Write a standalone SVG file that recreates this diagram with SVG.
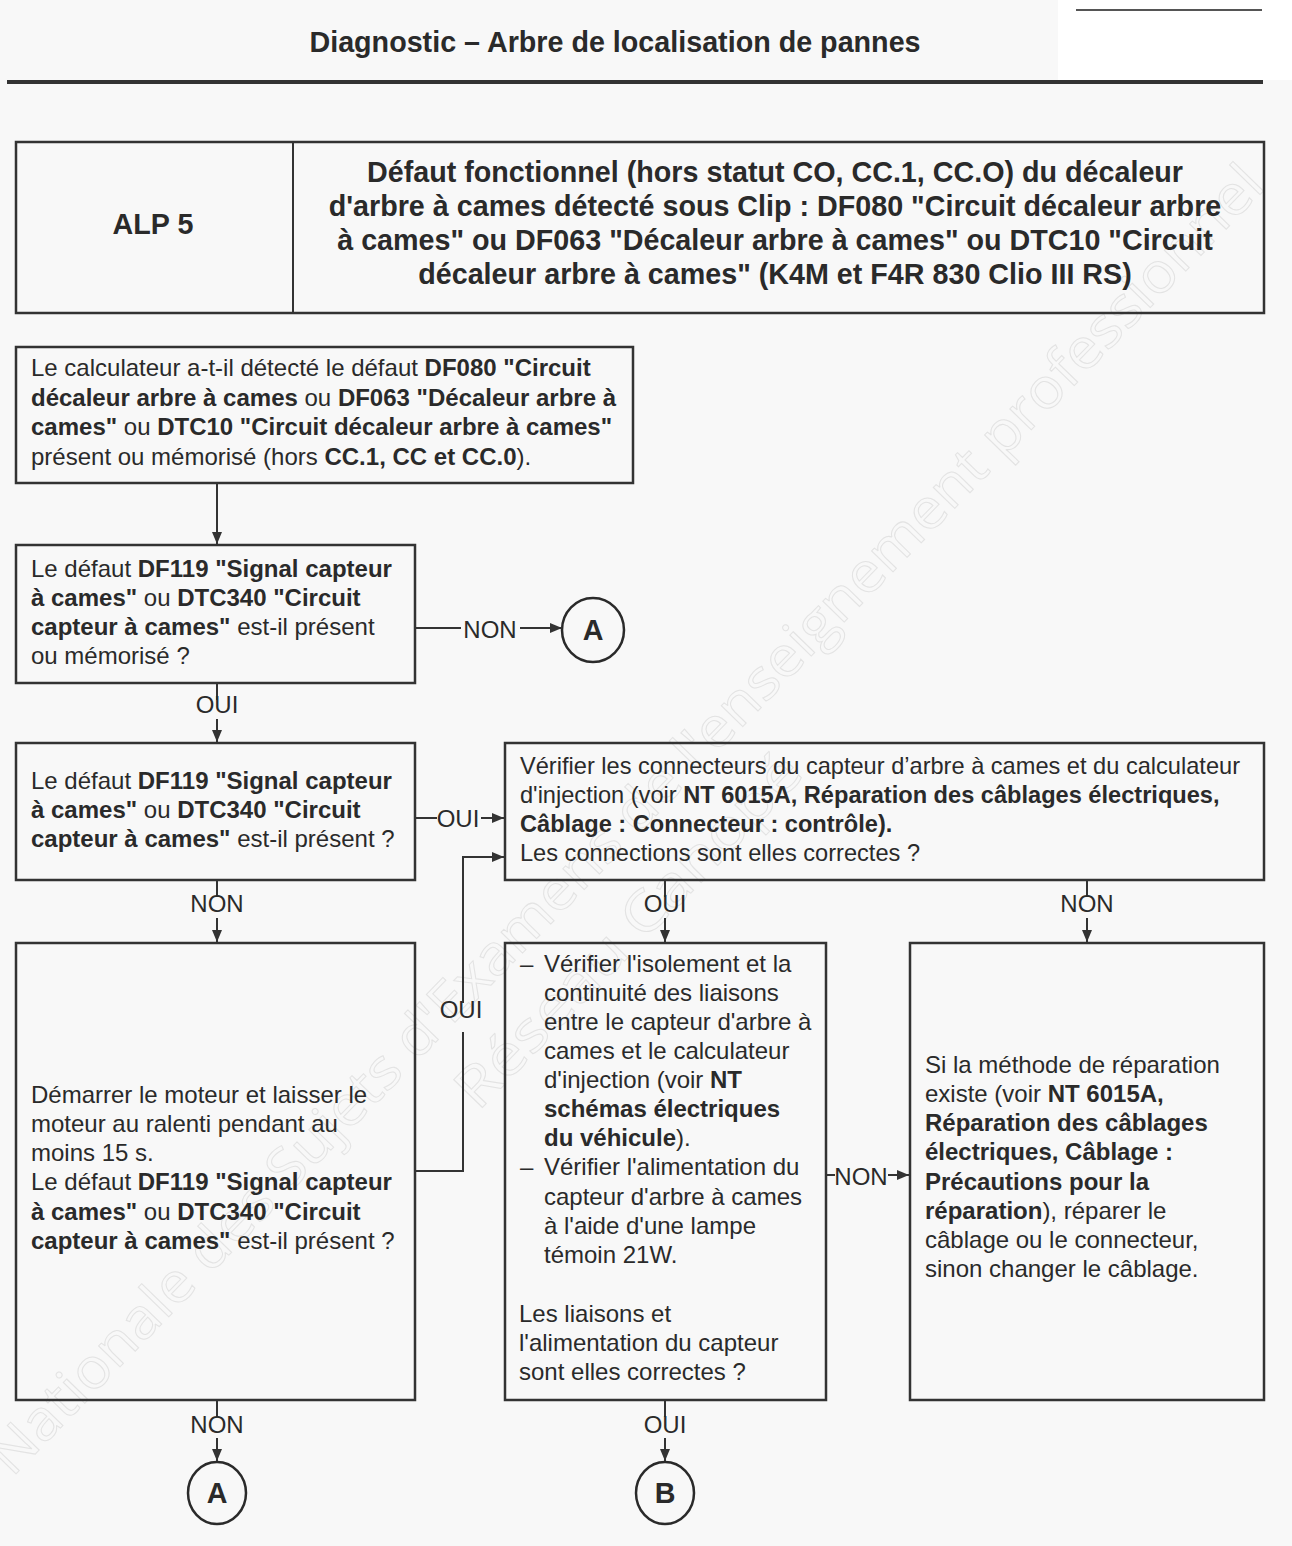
<svg xmlns="http://www.w3.org/2000/svg" width="1292" height="1546" viewBox="0 0 1292 1546">
  <style>
    .t { font-family: 'Liberation Sans', Arial, sans-serif; font-size: 24px; fill: #2a2a2a; }
    .b { font-weight: bold; }
    .h { font-family: 'Liberation Sans', Arial, sans-serif; font-size: 28.7px; font-weight: bold; fill: #2a2a2a; }
    .c { text-anchor: middle; }
    .box { fill: none; stroke: #333; stroke-width: 2.5; }
    .ln { fill: none; stroke: #333; stroke-width: 2; }
    .arr { fill: none; stroke: #333; stroke-width: 2; marker-end: url(#ah); }
    .circ { fill: none; stroke: #2a2a2a; stroke-width: 2.5; }
    .wm { font-family: 'Open Sans', 'DejaVu Sans', sans-serif; font-size: 56px; fill: none; stroke: #e3e3e3; stroke-width: 1; }
  </style>
  <defs>
    <marker id="ah" viewBox="0 0 12 10" refX="12" refY="5" markerWidth="12" markerHeight="10" markerUnits="userSpaceOnUse" orient="auto">
      <path d="M0,0 L12,5 L0,10 z" fill="#333"/>
    </marker>
  </defs>

  <!-- page -->
  <rect x="0" y="0" width="1292" height="1546" fill="#f8f8f8"/>
  <rect x="1058" y="0" width="234" height="80" fill="#ffffff"/>
  <line x1="1076" y1="10" x2="1262" y2="10" stroke="#555" stroke-width="2"/>

  <!-- background watermark -->
  <g id="watermark">
    <text class="wm" transform="translate(12,1478) rotate(-45.8)" textLength="1800" lengthAdjust="spacingAndGlyphs">Nationale des Sujets d'Examens de l'enseignement professionnel</text>
    <text class="wm" transform="translate(478,1112) rotate(-45.8)" textLength="470" lengthAdjust="spacingAndGlyphs">Réseau Canopé</text>
  </g>

  <!-- heading -->
  <g id="heading">
    <text class="h c" x="615" y="52" font-size="29">Diagnostic – Arbre de localisation de pannes</text>
    <line x1="7" y1="82" x2="1263" y2="82" stroke="#333" stroke-width="4"/>
  </g>

  <!-- ALP title block -->
  <g id="alp">
    <rect class="box" x="16" y="142" width="1248" height="171"/>
    <line class="ln" x1="293" y1="142" x2="293" y2="313" stroke-width="2.5"/>
    <text class="h c" x="153" y="234">ALP 5</text>
    <text class="h c" x="775" y="182">Défaut fonctionnel (hors statut CO, CC.1, CC.O) du décaleur</text>
    <text class="h c" x="775" y="216">d'arbre à cames détecté sous Clip : DF080 "Circuit décaleur arbre</text>
    <text class="h c" x="775" y="250">à cames" ou DF063 "Décaleur arbre à cames" ou DTC10 "Circuit</text>
    <text class="h c" x="775" y="284">décaleur arbre à cames" (K4M et F4R 830 Clio III RS)</text>
  </g>

  <!-- step 1 -->
  <g id="n1">
    <rect class="box" x="16" y="347" width="617" height="136"/>
    <text class="t" x="31" y="376">Le calculateur a-t-il détecté le défaut <tspan class="b">DF080 "Circuit</tspan></text>
    <text class="t" x="31" y="406"><tspan class="b">décaleur arbre à cames</tspan> ou <tspan class="b">DF063 "Décaleur arbre à</tspan></text>
    <text class="t" x="31" y="435"><tspan class="b">cames"</tspan> ou <tspan class="b">DTC10 "Circuit décaleur arbre à cames"</tspan></text>
    <text class="t" x="31" y="465">présent ou mémorisé (hors <tspan class="b">CC.1, CC et CC.0</tspan>).</text>
  </g>

  <!-- step 2 -->
  <g id="n2">
    <rect class="box" x="16" y="545" width="399" height="138"/>
    <text class="t" x="31" y="577">Le défaut <tspan class="b">DF119 "Signal capteur</tspan></text>
    <text class="t" x="31" y="606"><tspan class="b">à cames"</tspan> ou <tspan class="b">DTC340 "Circuit</tspan></text>
    <text class="t" x="31" y="635"><tspan class="b">capteur à cames"</tspan> est-il présent</text>
    <text class="t" x="31" y="664">ou mémorisé ?</text>
  </g>

  <!-- connector A (top) -->
  <g id="a1">
    <ellipse class="circ" cx="593" cy="630" rx="31" ry="32"/>
    <text class="h c" x="593" y="640" font-size="27">A</text>
  </g>

  <!-- step 3 -->
  <g id="n3">
    <rect class="box" x="16" y="743" width="399" height="137"/>
    <text class="t" x="31" y="789">Le défaut <tspan class="b">DF119 "Signal capteur</tspan></text>
    <text class="t" x="31" y="818"><tspan class="b">à cames"</tspan> ou <tspan class="b">DTC340 "Circuit</tspan></text>
    <text class="t" x="31" y="847"><tspan class="b">capteur à cames"</tspan> est-il présent ?</text>
  </g>

  <!-- step 4 : connectors check -->
  <g id="n4" font-size="23.6">
    <rect class="box" x="505" y="743" width="759" height="137"/>
    <text class="t" x="520" y="774" style="font-size:23.6px">Vérifier les connecteurs du capteur d’arbre à cames et du calculateur</text>
    <text class="t" x="520" y="803" style="font-size:23.6px">d'injection (voir <tspan class="b">NT 6015A, Réparation des câblages électriques,</tspan></text>
    <text class="t b" x="520" y="832" style="font-size:23.6px">Câblage : Connecteur : contrôle).</text>
    <text class="t" x="520" y="861" style="font-size:23.6px">Les connections sont elles correctes ?</text>
  </g>

  <!-- step 5 : engine idle -->
  <g id="n5">
    <rect class="box" x="16" y="943" width="399" height="457"/>
    <text class="t" x="31" y="1103">Démarrer le moteur et laisser le</text>
    <text class="t" x="31" y="1132">moteur au ralenti pendant au</text>
    <text class="t" x="31" y="1161">moins 15 s.</text>
    <text class="t" x="31" y="1190">Le défaut <tspan class="b">DF119 "Signal capteur</tspan></text>
    <text class="t" x="31" y="1220"><tspan class="b">à cames"</tspan> ou <tspan class="b">DTC340 "Circuit</tspan></text>
    <text class="t" x="31" y="1249"><tspan class="b">capteur à cames"</tspan> est-il présent ?</text>
  </g>

  <!-- step 6 : wiring check -->
  <g id="n6">
    <rect class="box" x="505" y="943" width="321" height="457"/>
    <text class="t" x="520" y="972">–</text>
    <text class="t" x="544" y="972">Vérifier l'isolement et la</text>
    <text class="t" x="544" y="1001">continuité des liaisons</text>
    <text class="t" x="544" y="1030">entre le capteur d'arbre à</text>
    <text class="t" x="544" y="1059">cames et le calculateur</text>
    <text class="t" x="544" y="1088">d'injection (voir <tspan class="b">NT</tspan></text>
    <text class="t b" x="544" y="1117">schémas électriques</text>
    <text class="t" x="544" y="1146"><tspan class="b">du véhicule</tspan>).</text>
    <text class="t" x="520" y="1175">–</text>
    <text class="t" x="544" y="1175">Vérifier l'alimentation du</text>
    <text class="t" x="544" y="1205">capteur d'arbre à cames</text>
    <text class="t" x="544" y="1234">à l'aide d'une lampe</text>
    <text class="t" x="544" y="1263">témoin 21W.</text>
    <text class="t" x="519" y="1322">Les liaisons et</text>
    <text class="t" x="519" y="1351">l'alimentation du capteur</text>
    <text class="t" x="519" y="1380">sont elles correctes ?</text>
  </g>

  <!-- step 7 : repair -->
  <g id="n7">
    <rect class="box" x="910" y="943" width="354" height="457"/>
    <text class="t" x="925" y="1073">Si la méthode de réparation</text>
    <text class="t" x="925" y="1102">existe (voir <tspan class="b">NT 6015A,</tspan></text>
    <text class="t b" x="925" y="1131">Réparation des câblages</text>
    <text class="t b" x="925" y="1160">électriques, Câblage :</text>
    <text class="t b" x="925" y="1190">Précautions pour la</text>
    <text class="t" x="925" y="1219"><tspan class="b">réparation</tspan>), réparer le</text>
    <text class="t" x="925" y="1248">câblage ou le connecteur,</text>
    <text class="t" x="925" y="1277">sinon changer le câblage.</text>
  </g>

  <!-- connectors A and B (bottom) -->
  <g id="a2">
    <ellipse class="circ" cx="217" cy="1493" rx="29" ry="31"/>
    <text class="h c" x="217" y="1503" font-size="27">A</text>
  </g>
  <g id="b1">
    <ellipse class="circ" cx="665" cy="1493" rx="29" ry="31"/>
    <text class="h c" x="665" y="1503" font-size="27">B</text>
  </g>

  <!-- links and their labels -->
  <g id="links">
    <path class="arr" d="M217,483 V544"/>

    <path class="ln" d="M415,628 H461"/>
    <text class="t c" x="490" y="638">NON</text>
    <path class="arr" d="M520,628 H562"/>

    <path class="ln" d="M217,683 V700"/>
    <text class="t c" x="217" y="713">OUI</text>
    <path class="arr" d="M217,719 V742"/>

    <path class="ln" d="M415,818 H437"/>
    <text class="t c" x="458" y="827">OUI</text>
    <path class="arr" d="M481,818 H504"/>

    <path class="ln" d="M217,880 V897"/>
    <text class="t c" x="217" y="912">NON</text>
    <path class="arr" d="M217,918 V942"/>

    <path class="ln" d="M415,1171 H463 V1032"/>
    <text class="t c" x="461" y="1018">OUI</text>
    <path class="arr" d="M463,1003 V857 H504"/>

    <path class="ln" d="M665,880 V897"/>
    <text class="t c" x="665" y="912">OUI</text>
    <path class="arr" d="M665,918 V942"/>

    <path class="ln" d="M1087,880 V897"/>
    <text class="t c" x="1087" y="912">NON</text>
    <path class="arr" d="M1087,918 V942"/>

    <path class="ln" d="M826,1175 H835"/>
    <text class="t c" x="861" y="1185">NON</text>
    <path class="arr" d="M888,1175 H909"/>

    <path class="ln" d="M217,1400 V1417"/>
    <text class="t c" x="217" y="1433">NON</text>
    <path class="arr" d="M217,1438 V1461"/>

    <path class="ln" d="M665,1400 V1417"/>
    <text class="t c" x="665" y="1433">OUI</text>
    <path class="arr" d="M665,1438 V1461"/>
  </g>
</svg>
